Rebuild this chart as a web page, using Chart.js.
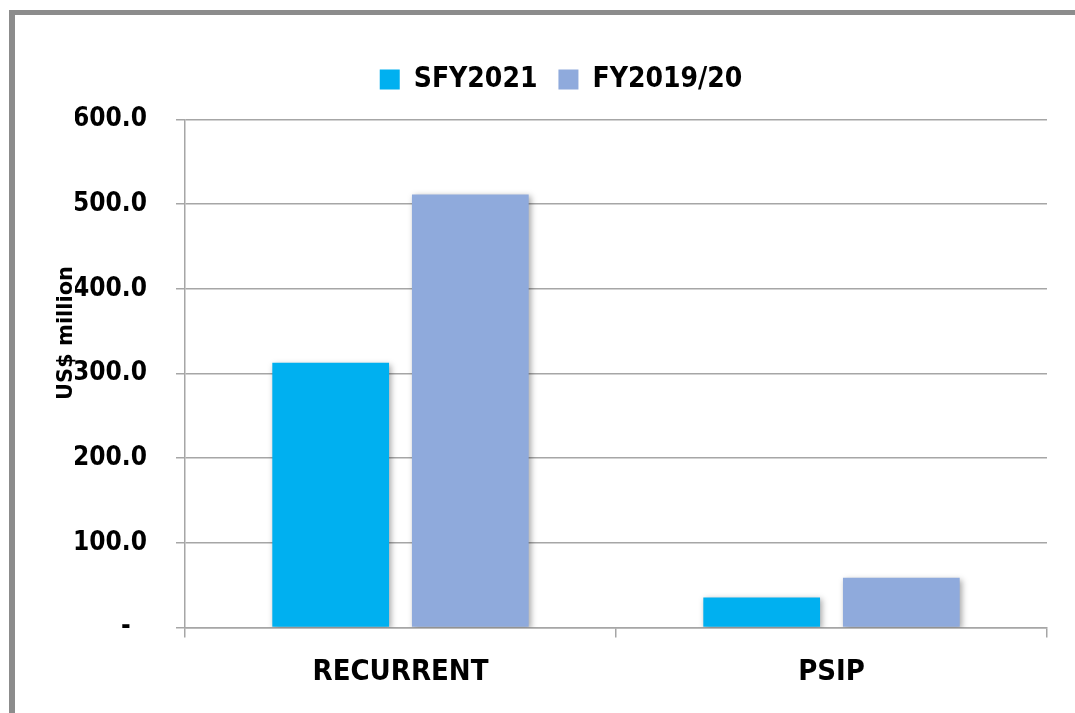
<!DOCTYPE html>
<html>
<head>
<meta charset="utf-8">
<script src="https://cdn.jsdelivr.net/npm/chart.js@4.4.1/dist/chart.umd.min.js"></script>
<style>
  html, body { margin: 0; padding: 0; background: #ffffff; }
  #caixa { position: absolute; left: 0; top: 0; width: 1075px; height: 713px; }
  #moldura {
    position: absolute; left: 9px; top: 10px; right: 0; bottom: 0;
    border-left: 6px solid #8c8c8c; border-top: 5px solid #8c8c8c;
    pointer-events: none;
  }
  #tituloY {
    position: absolute; left: 65px; top: 333px;
    transform: translate(-50%, -50%) rotate(-90deg);
    font: bold 21px 'DejaVu Sans', sans-serif; line-height: 1;
    white-space: nowrap; color: #000;
  }
</style>
</head>
<body>
<div id="caixa"><canvas id="graficoGastos"></canvas></div>
<div id="moldura"></div>
<div id="tituloY">US$ million</div>
<script>
const categorias = ['RECURRENT', 'PSIP'];
const valoresSFY2021 = [312.7, 35.5];
const valoresFY2019 = [511.5, 58.7];
const rotulosSeries = ['SFY2021', 'FY2019/20'];
const coresSeries = ['#00b0f0', '#8faadc'];

const fonteCondensada = "'DejaVu Sans Condensed', 'Liberation Sans Narrow', 'DejaVu Sans', sans-serif";

// sombra leve por baixo das barras
const sombraBarras = {
  id: 'sombraBarras',
  beforeDatasetsDraw(chart) {
    const ctx = chart.ctx;
    ctx.save();
    ctx.shadowColor = 'rgba(0, 0, 0, 0.35)';
    ctx.shadowBlur = 6;
    ctx.shadowOffsetX = 2;
    ctx.shadowOffsetY = 2;
  },
  afterDatasetsDraw(chart) {
    chart.ctx.restore();
  }
};

document.addEventListener('DOMContentLoaded', function() {
  const ctx = document.getElementById('graficoGastos').getContext('2d');
  new Chart(ctx, {
    type: 'bar',
    data: {
      labels: categorias,
      datasets: [
        {
          label: rotulosSeries[0],
          data: valoresSFY2021,
          backgroundColor: coresSeries[0],
          categoryPercentage: 0.648,
          barPercentage: 0.836
        },
        {
          label: rotulosSeries[1],
          data: valoresFY2019,
          backgroundColor: coresSeries[1],
          categoryPercentage: 0.648,
          barPercentage: 0.836
        }
      ]
    },
    options: {
      responsive: true,
      maintainAspectRatio: false,
      animation: false,
      layout: {
        padding: { top: 44.5, left: 75, right: 28, bottom: 0 }
      },
      plugins: {
        legend: {
          position: 'top',
          labels: {
            boxWidth: 20,
            boxHeight: 20,
            padding: 21,
            color: '#000',
            font: { family: fonteCondensada, size: 28, weight: 'bold' }
          }
        },
        // espaço entre a legenda e a área do gráfico
        title: {
          display: true,
          text: '',
          weight: 500,
          padding: 0,
          font: { size: 16, lineHeight: 1 }
        },
        tooltip: { enabled: false }
      },
      scales: {
        x: {
          afterFit: function(scale) { scale.height = 85.5; },
          grid: {
            offset: true,
            drawOnChartArea: false,
            drawTicks: true,
            tickLength: 10,
            color: '#a6a6a6',
            lineWidth: 1.5
          },
          border: { display: true, color: '#a6a6a6', width: 1.5 },
          ticks: {
            padding: 18,
            color: '#000',
            font: { family: fonteCondensada, size: 29, weight: 'bold' }
          }
        },
        y: {
          min: 0,
          max: 600,
          afterFit: function(scale) { scale.width = 110; },
          grid: {
            color: '#a6a6a6',
            lineWidth: 1.5,
            drawTicks: true,
            tickLength: 9
          },
          border: { display: true, color: '#a6a6a6', width: 1.5 },
          ticks: {
            stepSize: 100,
            padding: 29,
            color: '#000',
            font: { family: fonteCondensada, size: 26, weight: 'bold' },
            callback: function(value) {
              if (value === 0) {
                return '-  ';
              }
              return value.toFixed(1);
            }
          }
        }
      }
    },
    plugins: [sombraBarras]
  });
});
</script>
</body>
</html>
